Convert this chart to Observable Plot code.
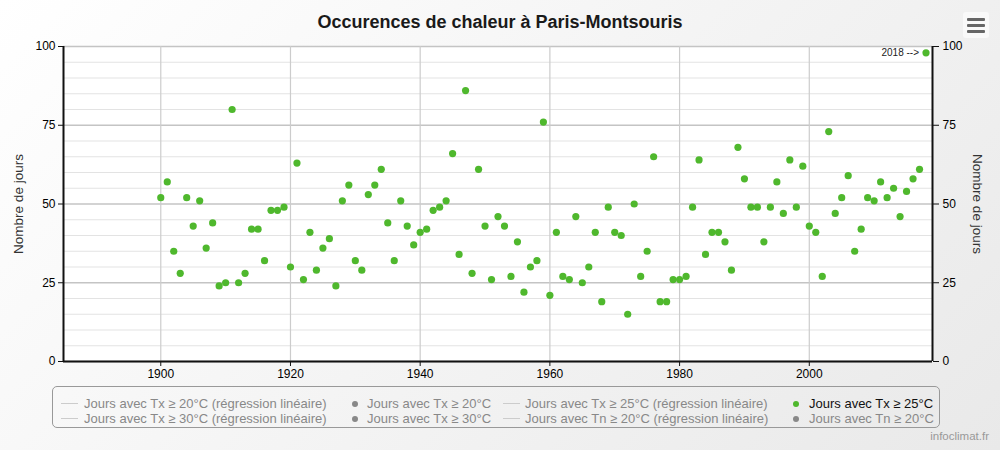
<!DOCTYPE html>
<html>
<head>
<meta charset="utf-8">
<script src="https://cdn.jsdelivr.net/npm/d3@7"></script>
<script src="https://cdn.jsdelivr.net/npm/@observablehq/plot@0.6"></script>
<style>
  html, body { margin: 0; padding: 0; }
  body {
    width: 1000px; height: 450px; overflow: hidden; position: relative;
    background: linear-gradient(135deg, #ffffff 0%, #f4f4f4 50%, #e9e9e9 100%);
    font-family: "Liberation Sans", Arial, sans-serif;
  }
  #title {
    position: absolute; left: 0; top: 0; width: 1000px; height: 36px;
    text-align: center; line-height: 44px; font-size: 18px; font-weight: bold; color: #1a1a1a;
  }
  #chart { position: absolute; left: 0; top: 36px; }
  #menu {
    position: absolute; left: 963px; top: 12px; width: 26px; height: 26px;
    background: #f9f9f9; border-radius: 3px;
  }
  #menu span { position: absolute; left: 4px; width: 18px; height: 3px; background: #666; border-radius: 1px; }
  #legend {
    position: absolute; left: 52px; top: 386px; width: 888px; height: 42px;
    border: 1px solid #999; border-radius: 5px; box-sizing: border-box;
  }
  .item { position: absolute; font-size: 13px; color: #888; white-space: nowrap; line-height: 15px; }
  .item.active { color: #111; }
  .sym-line { display: inline-block; position: absolute; top: 7px; height: 1px; width: 17px; background: #ccc; }
  .sym-dot { display: inline-block; position: absolute; top: 5px; width: 6px; height: 6px; border-radius: 50%; background: #888; }
  #credit { position: absolute; right: 11px; top: 430px; font-size: 11.5px; color: #999; }
</style>
</head>
<body>
<div id="title">Occurences de chaleur à Paris-Montsouris</div>
<div id="menu"><span style="top:6px"></span><span style="top:12px"></span><span style="top:18px"></span></div>
<div id="chart"></div>
<div id="legend"></div>
<div id="credit">infoclimat.fr</div>
<script>
// ---- data ----
const years = [
  1900,1901,1902,1903,1904,1905,1906,1907,1908,1909,
  1910,1911,1912,1913,1914,1915,1916,1917,1918,1919,
  1920,1921,1922,1923,1924,1925,1926,1927,1928,1929,
  1930,1931,1932,1933,1934,1935,1936,1937,1938,1939,
  1940,1941,1942,1943,1944,1945,1946,1947,1948,1949,
  1950,1951,1952,1953,1954,1955,1956,1957,1958,1959,
  1960,1961,1962,1963,1964,1965,1966,1967,1968,1969,
  1970,1971,1972,1973,1974,1975,1976,1977,1978,1979,
  1980,1981,1982,1983,1984,1985,1986,1987,1988,1989,
  1990,1991,1992,1993,1994,1995,1996,1997,1998,1999,
  2000,2001,2002,2003,2004,2005,2006,2007,2008,2009,
  2010,2011,2012,2013,2014,2015,2016,2017,2018
];
const joursTx25 = [
  52,57,35,28,52,43,51,36,44,24,
  25,80,25,28,42,42,32,48,48,49,
  30,63,26,41,29,36,39,24,51,56,
  32,29,53,56,61,44,32,51,43,37,
  41,42,48,49,51,66,34,86,28,61,
  43,26,46,43,27,38,22,30,32,76,
  21,41,27,26,46,25,30,41,19,49,
  41,40,15,50,27,35,65,19,19,26,
  26,27,49,64,34,41,41,38,29,68,
  58,49,49,38,49,57,47,64,49,62,
  43,41,27,73,47,52,59,35,42,52,
  51,57,52,55,46,54,58,61,98
];
const xDomain = [1885, 2019];
const xTicks = [1900, 1920, 1940, 1960, 1980, 2000];
const yTicks = [0, 25, 50, 75, 100];
const yMinor = [5,10,15,20,30,35,40,45,55,60,65,70,80,85,90,95];
const axisTitle = "Nombre de jours";
const annotationYear = [2018];
const annotationText = ["2018 -->"];
const legendItems = [
  {label: "Jours avec Tx ≥ 20°C (régression linéaire)", type: "line", active: false},
  {label: "Jours avec Tx ≥ 20°C", type: "dot", active: false},
  {label: "Jours avec Tx ≥ 25°C (régression linéaire)", type: "line", active: false},
  {label: "Jours avec Tx ≥ 25°C", type: "dot", active: true},
  {label: "Jours avec Tx ≥ 30°C (régression linéaire)", type: "line", active: false},
  {label: "Jours avec Tx ≥ 30°C", type: "dot", active: false},
  {label: "Jours avec Tn ≥ 20°C (régression linéaire)", type: "line", active: false},
  {label: "Jours avec Tn ≥ 20°C", type: "dot", active: false}
];

const green = "#4fb82d";
const data = years.map((y, i) => ({year: y, value: joursTx25[i]}));
const anno = annotationYear.map((y, i) => ({year: y, value: joursTx25[years.indexOf(y)], text: annotationText[i]}));

const chart = Plot.plot({
  width: 1000,
  height: 345,
  marginTop: 10,
  marginBottom: 20,
  marginLeft: 63,
  marginRight: 68,
  style: {fontFamily: "'Liberation Sans', Arial, sans-serif", fontSize: "12px", color: "#000", background: "transparent"},
  x: {domain: xDomain, label: null},
  y: {domain: [0, 100], label: null},
  marks: [
    Plot.frame({fill: "#ffffff", stroke: null}),
    Plot.gridY(yMinor, {stroke: "#e3e3e3", strokeOpacity: 1, strokeWidth: 1.2}),
    Plot.gridY(yTicks, {stroke: "#c4c4c4", strokeOpacity: 1, strokeWidth: 1.6}),
    Plot.gridX(xTicks, {stroke: "#cccccc", strokeOpacity: 1, strokeWidth: 1.2}),
    Plot.axisY(yTicks, {anchor: "left", tickSize: 5, tickPadding: 3, label: null, stroke: "#111", tickFormat: d => String(d)}),
    Plot.axisY(yTicks, {anchor: "right", tickSize: 6, tickPadding: 4, label: null, stroke: "#111", tickFormat: d => String(d)}),
    Plot.axisX(xTicks, {anchor: "bottom", tickSize: 5, tickPadding: 3, label: null, stroke: "#111", tickFormat: d => String(d)}),
    Plot.ruleX([xDomain[0], xDomain[1]], {stroke: "#111", strokeWidth: 2}),
    Plot.ruleY([0], {stroke: "#111", strokeWidth: 2}),
    Plot.text([axisTitle], {frameAnchor: "left", textAnchor: "middle", rotate: -90, dx: -45, fontSize: 13.5, fill: "#333", text: d => d}),
    Plot.text([axisTitle], {frameAnchor: "right", textAnchor: "middle", rotate: 90, dx: 45, fontSize: 13.5, fill: "#333", text: d => d}),
    Plot.dot(data, {x: "year", y: "value", r: 3.6, fill: green, stroke: null}),
    Plot.text(anno, {x: "year", y: "value", text: "text", textAnchor: "end", dx: -7, fontSize: 10, fill: "#222"})
  ]
});
document.getElementById("chart").appendChild(chart);

// ---- legend ----
const colX = [[8, 31], [299, 314], [450, 472], [740, 756]]; // [symbol x, text x] within legend box
const rowY = [9, 24];
const legend = document.getElementById("legend");
legendItems.forEach((it, i) => {
  const col = i % 4, row = Math.floor(i / 4);
  const div = document.createElement("div");
  div.className = "item" + (it.active ? " active" : "");
  div.style.left = colX[col][0] + "px";
  div.style.top = rowY[row] + "px";
  const sym = document.createElement("span");
  if (it.type === "line") { sym.className = "sym-line"; sym.style.left = "0px"; }
  else { sym.className = "sym-dot"; sym.style.left = "0px"; if (it.active) sym.style.background = green; }
  div.appendChild(sym);
  const t = document.createElement("span");
  t.textContent = it.label;
  t.style.position = "relative";
  t.style.left = (colX[col][1] - colX[col][0]) + "px";
  div.appendChild(t);
  legend.appendChild(div);
});
</script>
</body>
</html>
